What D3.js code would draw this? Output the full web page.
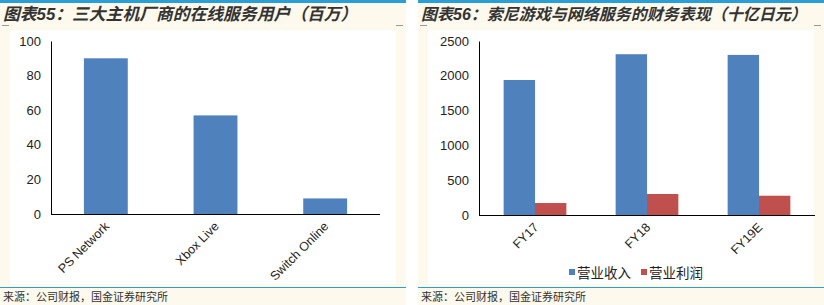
<!DOCTYPE html>
<html>
<head>
<meta charset="utf-8">
<script src="https://cdn.jsdelivr.net/npm/d3@7"></script>
<style>
  body { margin: 0; background: #fff; }
  svg { display: block; }
  text { font-family: "Liberation Sans", Arial, sans-serif; }
  .cn { font-family: "Noto Sans CJK SC", sans-serif; }
</style>
</head>
<body>
<div id="chart"></div>
<script>
// data
var services = ["PS Network", "Xbox Live", "Switch Online"];
var users = [90, 57, 9];
var years = ["FY17", "FY18", "FY19E"];
var revenue = [1940, 2310, 2300];
var profit = [172, 302, 277];
var seriesNames = ["营业收入", "营业利润"];
var yTicksLeft = [0, 20, 40, 60, 80, 100];
var yTicksRight = [0, 500, 1000, 1500, 2000, 2500];

var blue = "#4f81bd", red = "#c0504d", cream = "#fdf9ec";

var svg = d3.select("#chart").append("svg")
  .attr("width", 824)
  .attr("height", 305);

// panels background + frame lines
var panels = [{x0: 0, x1: 406, title: "55", text: "：三大主机厂商的在线服务用户（百万）", fs: 16.8},
              {x0: 418, x1: 824, title: "56", text: "：索尼游戏与网络服务的财务表现（十亿日元）", fs: 16}];

panels.forEach(function(p) {
  svg.append("rect").attr("x", p.x0).attr("y", 0).attr("width", p.x1 - p.x0).attr("height", 305).attr("fill", cream);
  svg.append("rect").attr("x", p.x0 + 10).attr("y", 30).attr("width", p.x1 - p.x0 - 20).attr("height", 254).attr("fill", "#fff");
  svg.append("rect").attr("x", p.x0).attr("y", 0).attr("width", p.x1 - p.x0).attr("height", 3).attr("fill", "#2a9fd6");
  svg.append("line").attr("x1", p.x0).attr("x2", p.x1).attr("y1", 287.5).attr("y2", 287.5)
    .attr("stroke", "#2a9fd6").attr("stroke-width", 1);
  svg.append("line").attr("x1", p.x0 + 2).attr("x2", p.x0 + 9).attr("y1", 25.5).attr("y2", 25.5).attr("stroke", "#999");
  svg.append("line").attr("x1", p.x1 - 10).attr("x2", p.x1 - 3).attr("y1", 25.5).attr("y2", 25.5).attr("stroke", "#999");

  var t = svg.append("text").attr("class", "cn")
    .attr("x", p.x0 + 3).attr("y", 20)
    .attr("font-size", p.fs + "px").attr("font-weight", "bold").attr("font-style", "italic")
    .attr("fill", "#333");
  t.append("tspan").text("图表");
  t.append("tspan").attr("font-family", "Liberation Sans, Arial").text(p.title);
  t.append("tspan").text(p.text);

  svg.append("text").attr("class", "cn")
    .attr("x", p.x0 + 3).attr("y", 301)
    .attr("font-size", "11px").attr("fill", "#333")
    .text("来源：公司财报，国金证券研究所");
});

// left chart
var xL = d3.scaleBand().domain(services).range([51, 380]).paddingInner(0.6).paddingOuter(0.3);
var yL = d3.scaleLinear().domain([0, 100]).range([214, 41]);

svg.append("g")
  .selectAll("rect")
  .data(users)
  .enter()
  .append("rect")
    .attr("x", function(d, i) { return xL(services[i]); })
    .attr("y", function(d) { return yL(d); })
    .attr("width", xL.bandwidth())
    .attr("height", function(d) { return yL(0) - yL(d); })
    .attr("fill", blue);

var axL = svg.append("g").attr("transform", "translate(51,0)")
  .call(d3.axisLeft(yL).tickValues(yTicksLeft).tickSize(0).tickPadding(10));
axL.select(".domain").attr("stroke", "#000");
axL.selectAll("text").attr("font-size", "13px").attr("fill", "#222").attr("font-family", "Liberation Sans, Arial");

svg.append("line").attr("x1", 51).attr("x2", 380).attr("y1", 214.5).attr("y2", 214.5).attr("stroke", "#000");

svg.append("g")
  .selectAll("text")
  .data(services)
  .enter()
  .append("text")
    .attr("transform", function(d) { return "translate(" + (xL(d) + xL.bandwidth() / 2 + 1) + ",224) rotate(-45)"; })
    .attr("text-anchor", "end")
    .attr("dy", "0.35em")
    .attr("font-size", "12.5px")
    .attr("fill", "#222")
    .text(function(d) { return d; });

// right chart
var xR = d3.scaleBand().domain(years).range([479, 815]).paddingInner(0.44).paddingOuter(0.22);
var xSub = d3.scaleBand().domain(seriesNames).range([0, xR.bandwidth()]);
var yR = d3.scaleLinear().domain([0, 2500]).range([215, 41]);

var groups = svg.append("g")
  .selectAll("g")
  .data(years)
  .enter()
  .append("g")
    .attr("transform", function(d) { return "translate(" + xR(d) + ",0)"; });

groups.selectAll("rect")
  .data(function(d, i) { return [{k: seriesNames[0], v: revenue[i], c: blue}, {k: seriesNames[1], v: profit[i], c: red}]; })
  .enter()
  .append("rect")
    .attr("x", function(d) { return xSub(d.k); })
    .attr("y", function(d) { return yR(d.v); })
    .attr("width", xSub.bandwidth())
    .attr("height", function(d) { return yR(0) - yR(d.v); })
    .attr("fill", function(d) { return d.c; });

var axR = svg.append("g").attr("transform", "translate(479,0)")
  .call(d3.axisLeft(yR).tickValues(yTicksRight).tickFormat(d3.format("d")).tickSize(0).tickPadding(10));
axR.select(".domain").attr("stroke", "#000");
axR.selectAll("text").attr("font-size", "13px").attr("fill", "#222").attr("font-family", "Liberation Sans, Arial");

svg.append("line").attr("x1", 479).attr("x2", 815).attr("y1", 215.5).attr("y2", 215.5).attr("stroke", "#000");

svg.append("g")
  .selectAll("text")
  .data(years)
  .enter()
  .append("text")
    .attr("transform", function(d) { return "translate(" + (xR(d) + xR.bandwidth() / 2 + 1) + ",225) rotate(-45)"; })
    .attr("text-anchor", "end")
    .attr("dy", "0.35em")
    .attr("font-size", "12.5px")
    .attr("fill", "#222")
    .text(function(d) { return d; });

// legend
var legend = svg.append("g").attr("transform", "translate(569,273)");
var lx = [0, 72];
seriesNames.forEach(function(n, i) {
  legend.append("rect").attr("x", lx[i]).attr("y", -4).attr("width", 6).attr("height", 6)
    .attr("fill", i === 0 ? blue : red);
  legend.append("text").attr("class", "cn").attr("x", lx[i] + 8).attr("y", 0)
    .attr("dy", "0.35em").attr("font-size", "13.5px").attr("fill", "#222").text(n);
});
</script>
</body>
</html>
